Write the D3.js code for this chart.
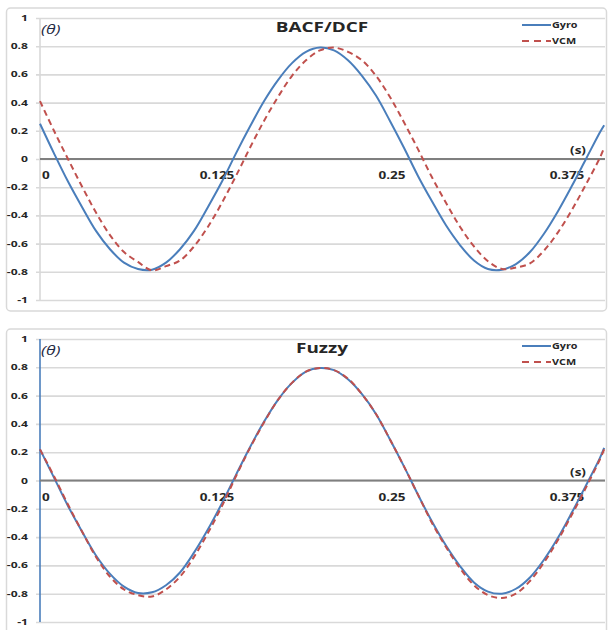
<!DOCTYPE html>
<html>
<head>
<meta charset="utf-8">
<script src="https://cdnjs.cloudflare.com/ajax/libs/d3/7.8.5/d3.min.js"></script>
<style>
  body { margin: 0; background: #fff; }
  svg { display: block; }
  text { font-family: "Open Sans", sans-serif; fill: #262626; }
</style>
</head>
<body>
<div id="chart"></div>
<script>
const width = 608
const height = 630

// time samples (s)
const time = [0, 0.01, 0.02, 0.03, 0.04, 0.05, 0.06, 0.07, 0.08, 0.09,
              0.10, 0.11, 0.12, 0.13, 0.14, 0.15, 0.16, 0.17, 0.18, 0.19,
              0.20, 0.21, 0.22, 0.23, 0.24, 0.25, 0.26, 0.27, 0.28, 0.29,
              0.30, 0.31, 0.32, 0.33, 0.34, 0.35, 0.36, 0.37, 0.38, 0.39,
              0.40, 0.403]

// panel 1 : BACF/DCF
const gyroBacf = [0.25, 0.04, -0.16, -0.34, -0.51, -0.64, -0.735, -0.78, -0.785, -0.735,
                  -0.64, -0.51, -0.34, -0.16, 0.04, 0.23, 0.41, 0.56, 0.68, 0.76,
                  0.79, 0.77, 0.70, 0.59, 0.45, 0.27, 0.08, -0.12, -0.30, -0.47,
                  -0.61, -0.72, -0.78, -0.785, -0.745, -0.66, -0.53, -0.37, -0.19, 0.00,
                  0.19, 0.24]
const vcmBacf = [0.41, 0.20, 0.00, -0.195, -0.38, -0.54, -0.66, -0.73, -0.79, -0.76,
                 -0.72, -0.62, -0.48, -0.31, -0.12, 0.08, 0.27, 0.44, 0.59, 0.70,
                 0.77, 0.79, 0.76, 0.70, 0.59, 0.44, 0.26, 0.07, -0.13, -0.31,
                 -0.48, -0.62, -0.725, -0.78, -0.77, -0.74, -0.65, -0.52, -0.36, -0.18,
                 0.01, 0.08]

// panel 2 : Fuzzy
const gyroFuzzy = [0.22, 0.02, -0.18, -0.36, -0.53, -0.66, -0.75, -0.795, -0.79, -0.74,
                   -0.65, -0.51, -0.345, -0.16, 0.04, 0.235, 0.415, 0.57, 0.69, 0.77,
                   0.795, 0.78, 0.715, 0.61, 0.47, 0.29, 0.10, -0.10, -0.29, -0.46,
                   -0.605, -0.72, -0.785, -0.80, -0.765, -0.685, -0.56, -0.405, -0.225, -0.035,
                   0.16, 0.23]
const vcmFuzzy = [0.22, 0.03, -0.17, -0.36, -0.54, -0.68, -0.77, -0.81, -0.82, -0.77,
                  -0.68, -0.54, -0.37, -0.18, 0.03, 0.23, 0.41, 0.57, 0.69, 0.77,
                  0.795, 0.78, 0.72, 0.61, 0.47, 0.29, 0.10, -0.10, -0.30, -0.47,
                  -0.62, -0.74, -0.81, -0.83, -0.80, -0.71, -0.58, -0.42, -0.24, -0.05,
                  0.15, 0.22]

const yTicks = [1, 0.8, 0.6, 0.4, 0.2, 0, -0.2, -0.4, -0.6, -0.8, -1]
const xTickValues = [0, 0.125, 0.25, 0.375]
const xTickLabels = ["0", "0.125", "0.25", "0.375"]
const seriesNames = ["Gyro", "VCM"]

const blue = "#4a7ebb"
const red = "#c0504d"
const sx = 1.35   // the picture is stretched sideways

const svg = d3.select("#chart").append("svg").attr("width", width).attr("height", height)

const x = d3.scaleLinear().domain([0, 0.4036]).range([40, 605])

function stretchedText(g, tx, ty, str, size, anchor) {
    return g.append("text")
        .attr("transform", `translate(${tx},${ty}) scale(${sx},1)`)
        .attr("text-anchor", anchor || "start")
        .style("font-size", size + "px")
        .text(str)
}

function panel(top, bottom, boxTop, boxBottom, title, gyro, vcm, axisColor) {
    const y = d3.scaleLinear().domain([-1, 1]).range([bottom, top])
    const g = svg.append("g")

    g.append("rect")
        .attr("x", 6.5).attr("y", boxTop).attr("width", 600).attr("height", boxBottom - boxTop)
        .attr("rx", 4).attr("fill", "none").attr("stroke", "#d9d9d9").attr("stroke-width", 1.5)

    // gridlines + y ticks
    const yAxis = d3.axisLeft(y).tickValues(yTicks).tickSize(-(605 - 36)).tickFormat("")
    const ya = g.append("g").attr("transform", `translate(36,0)`).call(yAxis)
    ya.select(".domain").remove()
    ya.selectAll("line").attr("stroke", "#d9d9d9").attr("stroke-width", 1.6)

    yTicks.forEach(v => {
        stretchedText(g, 28, y(v) + 3, String(v), 9, "end").style("font-weight", "bold")
    })

    // vertical axis
    g.append("line").attr("x1", 40).attr("x2", 40).attr("y1", y(1)).attr("y2", y(-1))
        .attr("stroke", axisColor).attr("stroke-width", 1.6)

    // zero line
    g.append("line").attr("x1", 40).attr("x2", 605).attr("y1", y(0)).attr("y2", y(0))
        .attr("stroke", "#7f7f7f").attr("stroke-width", 2)

    // x labels
    xTickValues.forEach((v, i) => {
        const lx = i === 0 ? x(v) + 2 : x(v) + 2
        stretchedText(g, lx, y(0) + 20, xTickLabels[i], 10, i === 0 ? "start" : "middle")
            .style("font-weight", "bold")
    })
    stretchedText(g, 578, y(0) - 5, "(s)", 10, "middle").style("font-weight", "bold")

    // series
    const line = d3.line().x((d, i) => x(time[i])).y(d => y(d)).curve(d3.curveCatmullRom)
    g.append("path").datum(gyro).attr("d", line)
        .attr("fill", "none").attr("stroke", blue).attr("stroke-width", 2)
    g.append("path").datum(vcm).attr("d", line)
        .attr("fill", "none").attr("stroke", red).attr("stroke-width", 2)
        .attr("stroke-dasharray", "6,4")

    // title + axis name
    stretchedText(g, 322, top + 14, title, 14, "middle").style("font-weight", "bold")
    stretchedText(g, 41, top + 16, "(θ)", 13, "start")
        .style("font-style", "italic").style("fill", "#1f2a44")

    // legend
    const lg = g.append("g")
    seriesNames.forEach((name, i) => {
        const ly = top + 7 + i * 16
        lg.append("line").attr("x1", 522).attr("x2", 551).attr("y1", ly).attr("y2", ly)
            .attr("stroke", i === 0 ? blue : red).attr("stroke-width", 2)
            .attr("stroke-dasharray", i === 0 ? null : "7,5")
        stretchedText(lg, 552, ly + 3, name, 8, "start").style("font-weight", "bold")
    })
}

panel(18, 300, 8, 311, "BACF/DCF", gyroBacf, vcmBacf, "#d9d9d9")
panel(339, 622, 329, 634, "Fuzzy", gyroFuzzy, vcmFuzzy, blue)
</script>
</body>
</html>
